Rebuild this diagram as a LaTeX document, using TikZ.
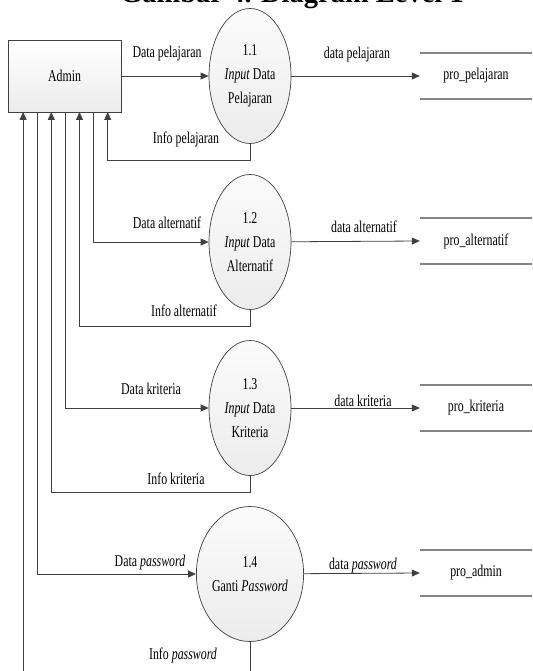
\documentclass[tikz,border=0pt]{standalone}
\usepackage{fontspec}
\setmainfont{Liberation Serif}[FakeStretch=0.72]
\newfontfamily\titlefont{Liberation Serif}
\usetikzlibrary{arrows.meta,shapes.geometric}
\definecolor{linegray}{HTML}{404040}
\definecolor{storegray}{HTML}{858585}
\tikzset{
    flow/.style={draw=linegray, line width=0.8pt, -{Triangle[length=8pt,width=7pt]}},
    storeline/.style={draw=storegray, line width=2pt},
    process/.style={ellipse, draw=linegray, line width=0.7pt, top color=gray!3, bottom color=gray!15,
        minimum width=82pt, minimum height=135pt, inner sep=0pt, align=center},
    entity/.style={rectangle, draw=linegray, line width=0.7pt, top color=white, bottom color=gray!15,
        minimum width=113pt, minimum height=72pt},
    datastore/.style={minimum width=112pt, minimum height=46pt, inner sep=0pt},
    lbl/.style={inner sep=0pt},
}
\begin{document}
\begin{tikzpicture}[x=1pt, y=-1pt, font=\fontsize{16.5}{24}\selectfont]
    \useasboundingbox (0,0) rectangle (532,671);
    % Title
        \node[anchor=base, font=\titlefont\bfseries\fontsize{28.5}{30}\selectfont] (title) at (292,2.5) {Gambar 4. Diagram Level 1};
    % Entity
        \node[entity] (admin) at (64.5,76) {Admin};
        \foreach \n in {1,...,7}{
            \coordinate (port\n) at (9+14.1*\n,112);
        }
    % Processes
        \node[process] (p1) at (250,76) {1.1\\\textit{Input} Data\\Pelajaran};
        \node[process] (p2) at (250,242) {1.2\\\textit{Input} Data\\Alternatif};
        \node[process] (p3) at (250,408) {1.3\\\textit{Input} Data\\Kriteria};
        \node[process] (p4) at (250,574) {1.4\\Ganti \textit{Password}};
    % Data stores
        \node[datastore] (s1) at (476,76) {pro\_pelajaran};
        \node[datastore] (s2) at (476,241) {pro\_alternatif};
        \node[datastore] (s3) at (476,408) {pro\_kriteria};
        \node[datastore] (s4) at (476,573) {pro\_admin};
        \foreach \s in {s1,s2,s3,s4}{
            \draw[storeline] (\s.north west) -- (\s.north east);
            \draw[storeline] (\s.south west) -- (\s.south east);
        }
    % Flows
        \draw[flow] (admin) -- (p1);
        \draw[flow] (p1) -- (s1.west);
        \draw[flow] (p1.south) -- ++(0,17) -| (port7);
        \draw[flow] (port6) |- (p2.west);
        \draw[flow] (p2) -- (s2.west);
        \draw[flow] (p2.south) -- ++(0,17) -| (port5);
        \draw[flow] (port4) |- (p3.west);
        \draw[flow] (p3) -- (s3.west);
        \draw[flow] (p3.south) -- ++(0,17) -| (port3);
        \draw[flow] (port2) |- (p4.west);
        \draw[flow] (p4) -- (s4.west);
        \draw[flow] (p4.south) -- ++(0,60) -| (port1);
    % Labels
        \node[lbl] (din1) at (167,54) {Data pelajaran};
        \node[lbl] (dout1) at (357,55) {data pelajaran};
        \node[lbl] (info1) at (186,139) {Info pelajaran};
        \node[lbl] (din2) at (167,223) {Data alternatif};
        \node[lbl] (dout2) at (364,227) {data alternatif};
        \node[lbl] (info2) at (184,311) {Info alternatif};
        \node[lbl] (din3) at (151,389) {Data kriteria};
        \node[lbl] (dout3) at (363,401) {data kriteria};
        \node[lbl] (info3) at (176,479) {Info kriteria};
        \node[lbl] (din4) at (150,563) {Data \textit{password}};
        \node[lbl] (dout4) at (363,566) {data \textit{password}};
        \node[lbl] (info4) at (183,655) {Info \textit{password}};
\end{tikzpicture}
\end{document}
